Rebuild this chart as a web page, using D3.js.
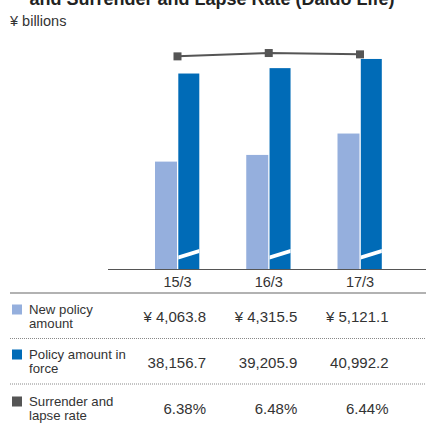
<!DOCTYPE html>
<html>
<head>
<meta charset="utf-8">
<script src="https://cdn.jsdelivr.net/npm/d3@7/dist/d3.min.js"></script>
<style>
  html, body { margin: 0; padding: 0; background: #fff; }
  svg { display: block; font-family: "Liberation Sans", Arial, Helvetica, sans-serif; }
</style>
</head>
<body>
<svg id="chart" width="426" height="424"></svg>
<script>
// Fiscal year-ends
const categories = ["15/3", "16/3", "17/3"];
// New policy amount (¥ billions)
const newPolicy = [4063.8, 4315.5, 5121.1];
// Policy amount in force (¥ billions)
const inForce = [38156.7, 39205.9, 40992.2];
// Surrender and lapse rate (%)
const lapseRate = [6.38, 6.48, 6.44];

const seriesLabels = [
  ["New policy", "amount"],
  ["Policy amount in", "force"],
  ["Surrender and", "lapse rate"]
];
const unitLabel = "¥ billions";
const titleText = "and Surrender and Lapse Rate (Daido Life)";

const colors = { newPolicy: "#95afdd", inForce: "#006bb7", rate: "#555555", text: "#333333" };

const svg = d3.select("#chart");
const baseY = 269.5, topY = 40;

// Horizontal position of each year group
const x = d3.scalePoint().domain(categories).range([177.5, 360]);

// Separate value axes for each series (all zero-based)
const yNew = d3.scaleLinear().domain([0, 8644]).range([baseY, topY]);
const yForce = d3.scaleLinear().domain([0, 44684]).range([baseY, topY]);
const yRate = d3.scaleLinear().domain([0, 6.87]).range([baseY, topY]);

// Title (second line of a two-line heading; the first sits above the frame)
svg.append("text")
  .attr("x", 212).attr("y", 4.5)
  .attr("text-anchor", "middle")
  .attr("font-size", 18).attr("font-weight", "bold")
  .attr("fill", "#222")
  .text(titleText);

svg.append("text")
  .attr("x", 10).attr("y", 26)
  .attr("font-size", 14.5)
  .attr("fill", colors.text)
  .text(unitLabel);

const barW = 22;

// New policy bars
svg.append("g").selectAll("rect")
  .data(categories)
  .join("rect")
  .attr("x", (d) => x(d) - barW - 0.5)
  .attr("width", barW)
  .attr("y", (d, i) => yNew(newPolicy[i]))
  .attr("height", (d, i) => baseY - yNew(newPolicy[i]))
  .attr("fill", colors.newPolicy);

// Policy amount in force bars
svg.append("g").selectAll("rect")
  .data(categories)
  .join("rect")
  .attr("x", (d) => x(d) + 0.8)
  .attr("width", barW - 1)
  .attr("y", (d, i) => yForce(inForce[i]))
  .attr("height", (d, i) => baseY - yForce(inForce[i]))
  .attr("fill", colors.inForce);

// Axis-break slash across each in-force bar
svg.append("g").selectAll("path")
  .data(categories)
  .join("path")
  .attr("d", (d) => {
    const x0 = x(d) + 0.8, x1 = x(d) + 0.8 + barW - 1;
    return `M${x0},${255.5} L${x1},${249} L${x1},${253} L${x0},${259.5} Z`;
  })
  .attr("fill", "#fff");

// Surrender and lapse rate line
const line = d3.line()
  .x((d, i) => x(categories[i]))
  .y((d) => yRate(d));

svg.append("path")
  .datum(lapseRate)
  .attr("d", line)
  .attr("fill", "none")
  .attr("stroke", colors.rate)
  .attr("stroke-width", 2);

svg.append("g").selectAll("rect")
  .data(lapseRate)
  .join("rect")
  .attr("x", (d, i) => x(categories[i]) - 4)
  .attr("y", (d) => yRate(d) - 4)
  .attr("width", 8).attr("height", 8)
  .attr("fill", colors.rate);

// Baseline axis
svg.append("line")
  .attr("x1", 108).attr("x2", 426)
  .attr("y1", baseY).attr("y2", baseY)
  .attr("stroke", "#555").attr("stroke-width", 1.2);

// Category labels
svg.append("g").selectAll("text")
  .data(categories)
  .join("text")
  .attr("x", (d) => x(d))
  .attr("y", 287)
  .attr("text-anchor", "middle")
  .attr("font-size", 14.5)
  .attr("fill", colors.text)
  .text((d) => d);

// Data table
svg.append("line")
  .attr("x1", 10).attr("x2", 426)
  .attr("y1", 293).attr("y2", 293)
  .attr("stroke", "#666").attr("stroke-width", 1.2);

[338.5, 384].forEach((yy) => {
  svg.append("line")
    .attr("x1", 10).attr("x2", 426)
    .attr("y1", yy).attr("y2", yy)
    .attr("stroke", "#888").attr("stroke-width", 1)
    .attr("stroke-dasharray", "1,1");
});

const rows = [
  { color: colors.newPolicy, lines: seriesLabels[0], base: 313.5, valueY: 322,
    values: newPolicy.map((v) => "¥ " + d3.format(",.1f")(v)) },
  { color: colors.inForce, lines: seriesLabels[1], base: 358.5, valueY: 367.5,
    values: inForce.map((v) => d3.format(",.1f")(v)) },
  { color: colors.rate, lines: seriesLabels[2], base: 405.5, valueY: 413.5,
    values: lapseRate.map((v) => d3.format(".2f")(v) + "%") }
];

const rowG = svg.append("g").selectAll("g").data(rows).join("g");

rowG.append("rect")
  .attr("x", 12).attr("y", (d) => d.base - 9)
  .attr("width", 10).attr("height", 10)
  .attr("fill", (d) => d.color);

// Two-line series label
rowG.append("text")
  .attr("y", (d) => d.base)
  .attr("font-size", 13.2)
  .attr("fill", colors.text)
  .selectAll("tspan")
  .data((d) => d.lines)
  .join("tspan")
  .attr("x", 29)
  .attr("dy", (t, j) => (j === 0 ? 0 : 14.8))
  .text((t) => t);

rowG.each(function (d) {
  const g = d3.select(this);
  d.values.forEach((t, j) => {
    g.append("text")
      .attr("x", x(categories[j]) + 28.5)
      .attr("y", d.valueY)
      .attr("text-anchor", "end")
      .attr("font-size", 15)
      .attr("fill", colors.text)
      .text(t);
  });
});
</script>
</body>
</html>
